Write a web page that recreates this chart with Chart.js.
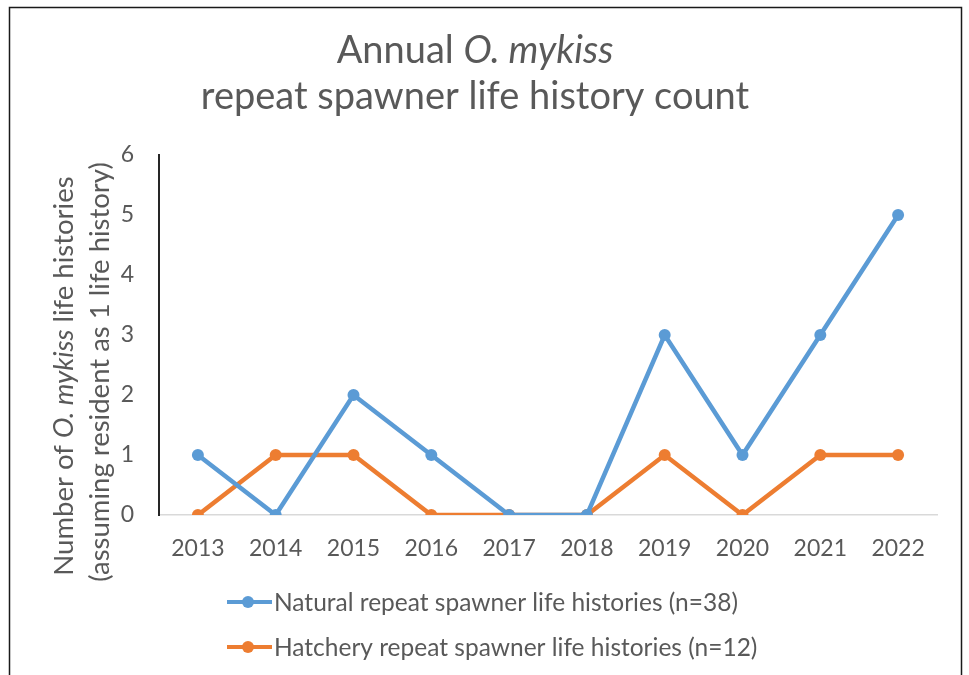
<!DOCTYPE html>
<html>
<head>
<meta charset="utf-8">
<script src="https://cdn.jsdelivr.net/npm/chart.js@4"></script>
<style>
  html, body { margin: 0; padding: 0; background: #fff; }
  #wrap { width: 969px; height: 675px; }
</style>
</head>
<body>
<div id="wrap"><canvas id="lifeChart" width="969" height="675"></canvas></div>
<script>
const years = ['2013', '2014', '2015', '2016', '2017', '2018', '2019', '2020', '2021', '2022'];
const naturalCounts = [1, 0, 2, 1, 0, 0, 3, 1, 3, 5];
const hatcheryCounts = [0, 1, 1, 0, 0, 0, 1, 0, 1, 1];
const seriesNames = [
  'Natural repeat spawner life histories (n=38)',
  'Hatchery repeat spawner life histories (n=12)'
];
const seriesColors = ['#5B9BD5', '#ED7D31'];

const FONT = 'Lato, "Open Sans", sans-serif';
const GREY = '#595959';

// draw a line made of plain / italic pieces, centred on x
function drawMixed(ctx, parts, x, y, size) {
  let total = 0;
  parts.forEach(p => {
    ctx.font = (p.italic ? 'italic ' : '') + size + 'px ' + FONT;
    p.w = ctx.measureText(p.text).width;
    total += p.w;
  });
  let cx = x - total / 2;
  parts.forEach(p => {
    ctx.font = (p.italic ? 'italic ' : '') + size + 'px ' + FONT;
    ctx.fillText(p.text, cx, y);
    cx += p.w;
  });
}

const decorations = {
  id: 'decorations',
  beforeDraw(chart) {
    const ctx = chart.ctx;
    ctx.save();
    ctx.fillStyle = '#fff';
    ctx.fillRect(0, 0, chart.width, chart.height);
    ctx.strokeStyle = '#1a1a1a';
    ctx.lineWidth = 1.5;
    ctx.strokeRect(9.5, 7.5, 952, 720);
    ctx.restore();
  },
  afterDraw(chart) {
    const ctx = chart.ctx;
    ctx.save();
    ctx.fillStyle = GREY;
    ctx.textBaseline = 'alphabetic';

    // chart title
    drawMixed(ctx, [{text: 'Annual '}, {text: 'O. mykiss', italic: true}], 475, 63, 38);
    drawMixed(ctx, [{text: 'repeat spawner life history count'}], 475, 109, 38);

    // y axis title, two rotated lines
    ctx.save();
    ctx.rotate(-Math.PI / 2);
    ctx.textBaseline = 'middle';
    drawMixed(ctx, [{text: 'Number of '}, {text: 'O. mykiss', italic: true}, {text: ' life histories'}], -376, 64, 27.5);
    drawMixed(ctx, [{text: '(assuming resident as 1 life history)'}], -372, 100, 27.5);
    ctx.restore();

    // legend, one entry per row
    const rows = [602, 647];
    ctx.textBaseline = 'middle';
    ctx.textAlign = 'left';
    ctx.font = '24.5px ' + FONT;
    rows.forEach((y, i) => {
      ctx.strokeStyle = seriesColors[i];
      ctx.lineWidth = 4;
      ctx.beginPath();
      ctx.moveTo(227, y);
      ctx.lineTo(272, y);
      ctx.stroke();
      ctx.fillStyle = seriesColors[i];
      ctx.beginPath();
      ctx.arc(248, y, 6, 0, Math.PI * 2);
      ctx.fill();
      ctx.fillStyle = GREY;
      ctx.fillText(seriesNames[i], 274, y + 1);
    });
    ctx.restore();
  }
};

const ctx = document.getElementById('lifeChart').getContext('2d');

const lifeChart = new Chart(ctx, {
  type: 'line',
  data: {
    labels: years,
    datasets: [
      {
        label: seriesNames[0],
        data: naturalCounts,
        borderColor: seriesColors[0],
        backgroundColor: seriesColors[0],
        borderWidth: 4.5,
        pointRadius: 6,
        pointBorderWidth: 0,
        tension: 0
      },
      {
        label: seriesNames[1],
        data: hatcheryCounts,
        borderColor: seriesColors[1],
        backgroundColor: seriesColors[1],
        borderWidth: 4.5,
        pointRadius: 6,
        pointBorderWidth: 0,
        tension: 0
      }
    ]
  },
  options: {
    responsive: false,
    animation: false,
    layout: { padding: { top: 155, left: 110, right: 32, bottom: 0 } },
    plugins: {
      legend: { display: false },
      title: { display: false },
      tooltip: { enabled: false }
    },
    scales: {
      x: {
        offset: true,
        grid: { display: false, drawTicks: false },
        border: { display: true, color: '#D9D9D9', width: 1.5 },
        ticks: { color: GREY, font: { family: FONT, size: 23 }, padding: 20, maxRotation: 0 },
        afterFit(scale) { scale.height = 160; }
      },
      y: {
        min: 0,
        max: 6,
        grid: { display: false, drawTicks: false },
        border: { display: true, color: '#262626', width: 2 },
        ticks: { stepSize: 1, color: GREY, font: { family: FONT, size: 23 }, padding: 25 },
        afterFit(scale) { scale.width = 49; }
      }
    }
  },
  plugins: [decorations]
});
</script>
</body>
</html>
